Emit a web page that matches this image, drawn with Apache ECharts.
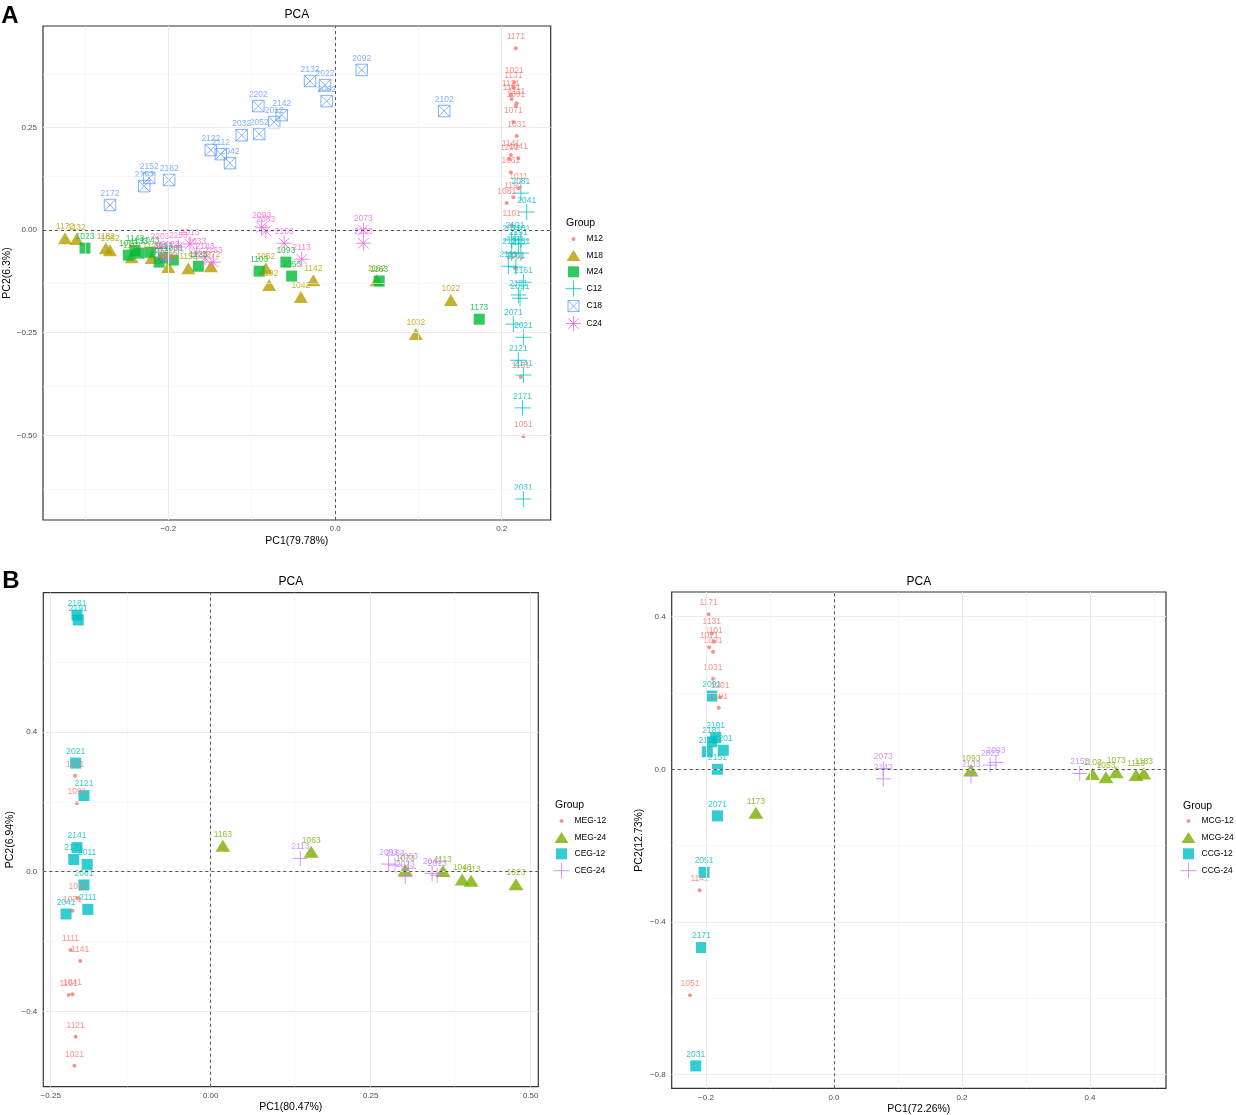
<!DOCTYPE html>
<html><head><meta charset="utf-8">
<script src="https://cdn.jsdelivr.net/npm/echarts@6/dist/echarts.min.js"></script>
<style>html,body{margin:0;padding:0;background:#fff}#c{width:1236px;height:1115px}</style>
</head><body><div id="c"></div>
<script>
// ---------- Panel A data: [PC1, PC2, sample] ----------
const A_M12 = [[0.217,0.443,'1171'],[0.215,0.360,'1021'],[0.214,0.348,'1131'],[0.211,0.329,'1121'],[0.212,0.319,'1181'],[0.218,0.309,'1111'],[0.217,0.302,'1091'],[0.214,0.263,'1071'],[0.218,0.229,'1031'],[0.211,0.183,'1141'],[0.220,0.175,'1041'],[0.209,0.173,'1201'],[0.211,0.141,'1061'],[0.220,0.102,'1011'],[0.214,0.080,'1191'],[0.206,0.066,'1081'],[0.212,0.012,'1101'],[0.216,-0.093,'1161'],[0.223,-0.358,'1151'],[0.226,-0.502,'1051']];
const A_M18 = [[-0.324,-0.020,'1172'],[-0.310,-0.022,'1132'],[-0.275,-0.044,'1182'],[-0.270,-0.049,'1082'],[-0.244,-0.066,'1112'],[-0.220,-0.068,'1122'],[-0.200,-0.090,'1092'],[-0.176,-0.093,'1152'],[-0.149,-0.088,'1072'],[-0.083,-0.093,'1052'],[-0.079,-0.134,'1102'],[-0.041,-0.163,'1042'],[-0.026,-0.122,'1142'],[0.050,-0.122,'1162'],[0.139,-0.170,'1022'],[0.097,-0.253,'1032']];
const A_M24 = [[-0.300,-0.044,'1023'],[-0.248,-0.061,'1013'],[-0.240,-0.050,'1143'],[-0.235,-0.056,'1133'],[-0.222,-0.054,'1043'],[-0.211,-0.078,'1073'],[-0.206,-0.068,'1113'],[-0.194,-0.073,'1083'],[-0.164,-0.088,'1123'],[-0.091,-0.100,'1103'],[-0.059,-0.078,'1093'],[-0.052,-0.112,'1053'],[0.053,-0.124,'1163'],[0.173,-0.217,'1173']];
const A_C12 = [[0.223,0.090,'2081'],[0.230,0.044,'2041'],[0.216,-0.017,'2101'],[0.212,-0.024,'2011'],[0.223,-0.024,'2201'],[0.220,-0.034,'2191'],[0.212,-0.056,'2131'],[0.223,-0.056,'2151'],[0.208,-0.088,'2111'],[0.217,-0.090,'2061'],[0.226,-0.127,'2161'],[0.220,-0.158,'2181'],[0.222,-0.166,'2091'],[0.214,-0.229,'2071'],[0.226,-0.261,'2021'],[0.220,-0.317,'2121'],[0.226,-0.353,'2141'],[0.225,-0.433,'2171'],[0.226,-0.655,'2031']];
const A_C18 = [[-0.270,0.061,'2172'],[-0.229,0.107,'2153'],[-0.223,0.127,'2152'],[-0.199,0.122,'2182'],[-0.149,0.195,'2122'],[-0.137,0.185,'2112'],[-0.126,0.163,'2042'],[-0.112,0.231,'2032'],[-0.091,0.234,'2052'],[-0.092,0.302,'2202'],[-0.073,0.263,'2012'],[-0.064,0.280,'2142'],[-0.030,0.363,'2132'],[-0.012,0.353,'2022'],[-0.010,0.314,'2062'],[0.032,0.390,'2092'],[0.131,0.290,'2102']];
const A_C24 = [[-0.088,0.007,'2093'],[-0.083,-0.002,'2063'],[-0.061,-0.032,'2103'],[-0.040,-0.071,'2113'],[0.034,0.000,'2073'],[0.034,-0.032,'2133'],[-0.210,-0.044,'2203'],[-0.188,-0.041,'2153'],[-0.174,-0.034,'2013'],[-0.206,-0.066,'2043'],[-0.198,-0.063,'2123'],[-0.166,-0.056,'2033'],[-0.156,-0.068,'2183'],[-0.146,-0.078,'2163']];

// ---------- Panel B (left) ----------
const B1_MEG12 = [[-0.212,0.275,'1181'],[-0.209,0.196,'1091'],[-0.208,-0.076,'1011'],[-0.216,-0.112,'1071'],[-0.219,-0.224,'1111'],[-0.204,-0.256,'1141'],[-0.222,-0.353,'1161'],[-0.216,-0.351,'1041'],[-0.211,-0.473,'1121'],[-0.213,-0.556,'1021']];
const B1_MEG24 = [[0.019,0.074,'1163'],[0.157,0.057,'1063'],[0.304,0.005,'1073'],[0.363,0.002,'1113'],[0.393,-0.022,'1043'],[0.407,-0.026,'1013'],[0.477,-0.036,'1023']];
const B1_CEG12 = [[-0.209,0.735,'2181'],[-0.207,0.721,'2191'],[-0.211,0.311,'2021'],[-0.198,0.218,'2121'],[-0.209,0.069,'2141'],[-0.214,0.035,'2131'],[-0.193,0.021,'2011'],[-0.198,-0.038,'2061'],[-0.192,-0.108,'2111'],[-0.226,-0.121,'2041']];
const B1_CEG24 = [[0.140,0.038,'2113'],[0.278,0.022,'2093'],[0.288,0.019,'2163'],[0.309,0.010,'2053'],[0.304,-0.014,'2073'],[0.346,-0.005,'2043'],[0.354,-0.010,'2013']];

// ---------- Panel B (right) ----------
const B2_MCG12 = [[-0.196,0.406,'1171'],[-0.191,0.356,'1131'],[-0.188,0.334,'1101'],[-0.195,0.320,'1071'],[-0.189,0.308,'1091'],[-0.189,0.237,'1031'],[-0.178,0.189,'1201'],[-0.180,0.161,'1191'],[-0.210,-0.317,'1141'],[-0.225,-0.592,'1051']];
const B2_MCG24 = [[-0.122,-0.114,'1173'],[0.214,-0.002,'1093'],[0.404,-0.012,'1103'],[0.425,-0.021,'1053'],[0.441,-0.008,'1073'],[0.472,-0.015,'1113'],[0.484,-0.011,'1183']];
const B2_CCG12 = [[-0.191,0.192,'2091'],[-0.185,0.083,'2101'],[-0.191,0.072,'2181'],[-0.198,0.046,'2111'],[-0.173,0.050,'2201'],[-0.182,0.000,'2151'],[-0.182,-0.122,'2071'],[-0.203,-0.270,'2051'],[-0.207,-0.467,'2171'],[-0.216,-0.777,'2031']];
const B2_CCG24 = [[0.077,0.002,'2073'],[0.077,-0.025,'2143'],[0.214,-0.018,'2133'],[0.244,0.011,'2023'],[0.253,0.018,'2093'],[0.384,-0.011,'2153']];

// ---------- axis ticks ----------
const A_X_TICKS = [-0.2, 0, 0.2];
const A_X_MINOR = [-0.3, -0.1, 0.1];
const A_Y_TICKS = [-0.5, -0.25, 0, 0.25];
const A_Y_MINOR = [-0.625, -0.375, -0.125, 0.125, 0.375];
const B1_X_TICKS = [-0.25, 0, 0.25, 0.5];
const B1_X_MINOR = [-0.125, 0.125, 0.375];
const B1_Y_TICKS = [-0.4, 0, 0.4];
const B1_Y_MINOR = [-0.6, -0.2, 0.2, 0.6];
const B2_X_TICKS = [-0.2, 0, 0.2, 0.4];
const B2_X_MINOR = [-0.1, 0.1, 0.3, 0.5];
const B2_Y_TICKS = [-0.8, -0.4, 0, 0.4];
const B2_Y_MINOR = [-0.6, -0.2, 0.2];

const FONT = '"Liberation Sans", Arial, Helvetica, sans-serif';
const SYM = {
  dot: 'circle', tri: 'triangle', sq: 'rect',
  plus: 'path://M5 0L5 10M0 5L10 5',
  boxx: 'path://M0 0L10 0L10 10L0 10ZM0 0L10 10M10 0L0 10',
  star: 'path://M5 0L5 10M0 5L10 5M1.46 1.46L8.54 8.54M8.54 1.46L1.46 8.54'
};
const LEG = {
  dot: 'path://M0 0M16 16M10 8L9.4 9.4L8 10L6.6 9.4L6 8L6.6 6.6L8 6L9.4 6.6Z',
  tri: 'path://M0 0M16 16M8 2.5L15 13.5L1 13.5Z',
  sq: 'path://M0 0M16 16M2.5 2.5L13.5 2.5L13.5 13.5L2.5 13.5Z',
  plus: 'path://M8 0L8 16M0 8L16 8',
  boxx: 'path://M0 0M16 16M2.5 2.5L13.5 2.5L13.5 13.5L2.5 13.5ZM2.5 2.5L13.5 13.5M13.5 2.5L2.5 13.5',
  star: 'path://M0 0M16 16M8 0.5L8 15.5M0.5 8L15.5 8M2.7 2.7L13.3 13.3M13.3 2.7L2.7 13.3'
};
const STROKE = {plus: true, boxx: true, star: true};

function fmt(d) { return v => (Math.abs(v) < 1e-9 ? 0 : v).toFixed(d).replace('-', '\u2212'); }

function mkSeries(name, data, gi, sym, size, col) {
  const stroke = !!STROKE[sym];
  return {
    name, type: 'scatter', xAxisIndex: gi, yAxisIndex: gi, z: 3,
    symbol: SYM[sym], symbolSize: size,
    data: data.map(d => ({name: d[2], value: [d[0], d[1]]})),
    itemStyle: stroke ? {color: 'rgba(0,0,0,0)', borderColor: col, borderWidth: 1} : {color: col},
    label: {show: true, position: 'inside', offset: [0, -11.5], formatter: '{b}', fontSize: 8.5,
            color: col, fontFamily: FONT, textBorderWidth: 0},
    emphasis: {disabled: true}, animation: false
  };
}
function gridLines(gi, xMaj, xMin, yMaj, yMin) {
  const d = [];
  xMaj.forEach(v => d.push({xAxis: v, lineStyle: {color: '#ebebeb', width: 1, type: 'solid'}}));
  xMin.forEach(v => d.push({xAxis: v, lineStyle: {color: '#f3f3f3', width: 0.6, type: 'solid'}}));
  yMaj.forEach(v => d.push({yAxis: v, lineStyle: {color: '#ebebeb', width: 1, type: 'solid'}}));
  yMin.forEach(v => d.push({yAxis: v, lineStyle: {color: '#f3f3f3', width: 0.6, type: 'solid'}}));
  d.push({xAxis: 0, lineStyle: {color: '#444', width: 0.9, type: [3, 3]}});
  d.push({yAxis: 0, lineStyle: {color: '#444', width: 0.9, type: [3, 3]}});
  return {
    type: 'scatter', xAxisIndex: gi, yAxisIndex: gi, data: [], z: 1, silent: true,
    markLine: {silent: true, symbol: 'none', label: {show: false}, animation: false, data: d}
  };
}
function xAxis(gi, min, max, ticks, dec, name, gap) {
  return {type: 'value', gridIndex: gi, min, max, name, nameLocation: 'middle', nameGap: gap,
    nameTextStyle: {fontSize: 10.5, color: '#000', fontFamily: FONT},
    axisLine: {show: false}, splitLine: {show: false},
    axisTick: {show: true, length: 3, customValues: ticks, lineStyle: {color: '#333', width: 1}},
    axisLabel: {customValues: ticks, formatter: fmt(dec), fontSize: 8, color: '#4d4d4d', margin: 5, fontFamily: FONT}};
}
function yAxis(gi, min, max, ticks, dec, name, gap) {
  return {type: 'value', gridIndex: gi, min, max, name, nameLocation: 'middle', nameGap: gap,
    nameTextStyle: {fontSize: 10.5, color: '#000', fontFamily: FONT},
    axisLine: {show: false}, splitLine: {show: false},
    axisTick: {show: true, length: 3, customValues: ticks, lineStyle: {color: '#333', width: 1}},
    axisLabel: {customValues: ticks, formatter: fmt(dec), fontSize: 8, color: '#4d4d4d', margin: 6, fontFamily: FONT}};
}
function legend(left, top, items) {
  return {
    orient: 'vertical', left, top, padding: 0, itemWidth: 16, itemHeight: 16, itemGap: 0.4,
    selectedMode: false, textStyle: {fontSize: 8.5, color: '#000', fontFamily: FONT},
    data: items.map(([n, sym, col]) => ({
      name: n, icon: LEG[sym],
      itemStyle: STROKE[sym] ? {color: 'rgba(0,0,0,0)', borderColor: col, borderWidth: 1} : {color: col, borderWidth: 0}
    }))
  };
}
function txt(x, y, s, size, align, bold) {
  return {type: 'text', x, y, silent: true, style: {text: s, fontSize: size, fontFamily: FONT,
    fontWeight: bold ? 'bold' : 'normal', fill: '#000', align: align, verticalAlign: 'middle'}};
}

const C6 = {M12: '#F8766D', M18: '#B79F00', M24: '#00BA38', C12: '#00BFC4', C18: '#619CFF', C24: '#F564E3'};
const C4 = ['#F8766D', '#7CAE00', '#00BFC4', '#C77CFF'];

const chart = echarts.init(document.getElementById('c'));
chart.setOption({
  animation: false,
  grid: [
    {left: 43, top: 26, width: 507.7, height: 494, show: true, borderColor: '#333', borderWidth: 1.2, backgroundColor: 'transparent', outerBoundsMode: 'none'},
    {left: 43.3, top: 592.7, width: 495, height: 494, show: true, borderColor: '#333', borderWidth: 1.2, backgroundColor: 'transparent', outerBoundsMode: 'none'},
    {left: 671.7, top: 592, width: 494.3, height: 496.3, show: true, borderColor: '#333', borderWidth: 1.2, backgroundColor: 'transparent', outerBoundsMode: 'none'}
  ],
  xAxis: [
    xAxis(0, -0.3504, 0.2588, A_X_TICKS, 1, 'PC1(79.78%)', 16),
    xAxis(1, -0.2616, 0.5119, B1_X_TICKS, 2, 'PC1(80.47%)', 15),
    xAxis(2, -0.2536, 0.5188, B2_X_TICKS, 1, 'PC1(72.26%)', 15)
  ],
  yAxis: [
    yAxis(0, -0.706, 0.497, A_Y_TICKS, 2, 'PC2(6.3%)', 29),
    yAxis(1, -0.6157, 0.799, B1_Y_TICKS, 1, 'PC2(6.94%)', 28),
    yAxis(2, -0.8357, 0.4645, B2_Y_TICKS, 1, 'PC2(12.73%)', 27)
  ],
  legend: [
    legend(565, 231, [['M12','dot',C6.M12],['M18','tri',C6.M18],['M24','sq',C6.M24],['C12','plus',C6.C12],['C18','boxx',C6.C18],['C24','star',C6.C24]]),
    legend(553, 813, [['MEG-12','dot',C4[0]],['MEG-24','tri',C4[1]],['CEG-12','sq',C4[2]],['CEG-24','plus',C4[3]]]),
    legend(1180, 813, [['MCG-12','dot',C4[0]],['MCG-24','tri',C4[1]],['CCG-12','sq',C4[2]],['CCG-24','plus',C4[3]]])
  ],
  graphic: [
    txt(10, 16.5, 'A', 24, 'center', true),
    txt(11, 581.5, 'B', 24, 'center', true),
    txt(296.8, 14.5, 'PCA', 12, 'center'),
    txt(290.8, 582, 'PCA', 12, 'center'),
    txt(918.8, 582, 'PCA', 12, 'center'),
    txt(566, 223, 'Group', 10.5, 'left'),
    txt(555, 805, 'Group', 10.5, 'left'),
    txt(1183, 806, 'Group', 10.5, 'left')
  ],
  series: [
    gridLines(0, A_X_TICKS, A_X_MINOR, A_Y_TICKS, A_Y_MINOR),
    gridLines(1, B1_X_TICKS, B1_X_MINOR, B1_Y_TICKS, B1_Y_MINOR),
    gridLines(2, B2_X_TICKS, B2_X_MINOR, B2_Y_TICKS, B2_Y_MINOR),
    mkSeries('M12', A_M12, 0, 'dot', 4, C6.M12),
    mkSeries('M18', A_M18, 0, 'tri', [14, 12], C6.M18),
    mkSeries('M24', A_M24, 0, 'sq', 11, C6.M24),
    mkSeries('C12', A_C12, 0, 'plus', 16, C6.C12),
    mkSeries('C18', A_C18, 0, 'boxx', 11.5, C6.C18),
    mkSeries('C24', A_C24, 0, 'star', 15, C6.C24),
    mkSeries('MEG-12', B1_MEG12, 1, 'dot', 4, C4[0]),
    mkSeries('MEG-24', B1_MEG24, 1, 'tri', [15, 12], C4[1]),
    mkSeries('CEG-12', B1_CEG12, 1, 'sq', 11, C4[2]),
    mkSeries('CEG-24', B1_CEG24, 1, 'plus', 15, C4[3]),
    mkSeries('MCG-12', B2_MCG12, 2, 'dot', 4, C4[0]),
    mkSeries('MCG-24', B2_MCG24, 2, 'tri', [15, 12], C4[1]),
    mkSeries('CCG-12', B2_CCG12, 2, 'sq', 11, C4[2]),
    mkSeries('CCG-24', B2_CCG24, 2, 'plus', 15, C4[3])
  ]
});
</script></body></html>
